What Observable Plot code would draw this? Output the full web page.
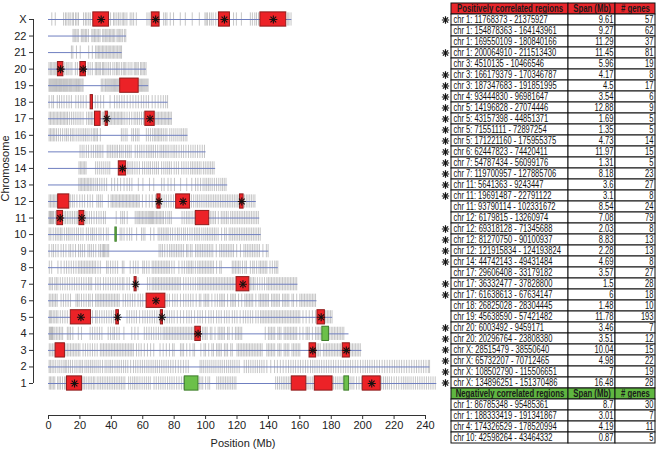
<!DOCTYPE html>
<html><head><meta charset="utf-8">
<script src="https://cdn.jsdelivr.net/npm/d3@7"></script>
<script src="https://cdn.jsdelivr.net/npm/@observablehq/plot@0.6"></script>
<style>
body{margin:0;background:#fff;}
#wrap{display:flex;width:656px;height:451px;overflow:hidden;}
</style></head><body><div id="wrap"></div>
<script>
// ---------- data ----------
const chromosomes = ["1","2","3","4","5","6","7","8","9","10","11","12","13","14","15","16","17","18","19","20","21","22","X"];
const chromLengths = [247.2,242.8,199.5,191.3,180.9,170.9,158.8,146.3,140.3,135.4,134.5,132.3,114.1,106.4,100.3,88.8,78.8,76.1,63.8,62.4,46.9,49.7,154.9];

const genesChr1 = [0.5,1.3,2.2,3.1,4.0,5.8,6.7,7.6,8.9,10.2,11.0,21.9,22.8,24.0,25.3,26.4,27.5,28.6,29.5,31.0,32.1,33.2,34.3,35.4,36.5,37.6,38.7,39.8,40.9,42.0,43.1,44.2,45.3,46.4,47.5,48.6,51.0,52.3,53.6,54.7,55.8,56.9,58.2,59.6,61.0,62.3,63.6,64.8,67.2,68.6,70.1,71.5,72.9,74.3,75.8,77.2,78.6,80.0,81.6,83.1,84.6,85.9,96.0,97.1,98.2,100.0,101.5,102.6,107.1,108.3,109.4,110.5,111.6,112.7,113.8,114.9,116.0,117.1,118.2,119.3,144.6,145.8,147.0,148.2,149.4,150.5,151.6,152.7,153.8,164.6,165.8,167.0,168.2,181.4,182.6,183.8,185.0,186.2,187.4,192.0,193.2,194.4,196.1,197.7,199.2,212.1,213.3,214.5,215.7,217.0,218.4,220.0,221.5,223.0,224.6,225.9,227.1,228.3,229.5,230.8,232.2,233.6,235.0,236.4,237.8,239.2,240.6,242.0,243.4,244.8,246.2];
const genesChr2 = [0.4,1.2,2.3,3.4,4.6,6.0,7.2,8.5,9.8,10.7,11.6,12.8,14.0,15.3,16.8,18.1,19.5,20.6,21.7,23.2,24.4,25.6,26.8,27.9,29.1,30.3,31.6,32.9,34.4,36.0,37.2,38.5,39.6,40.8,42.3,43.7,45.0,46.4,47.8,49.1,50.5,52.3,54.1,55.5,56.9,58.4,59.8,61.2,62.6,63.9,65.3,66.6,68.0,69.3,70.7,72.1,73.5,74.9,76.3,77.8,79.3,80.9,82.6,84.2,85.9,87.5,89.0,96.5,97.6,98.8,100.1,101.4,102.7,104.0,105.3,106.6,108.0,109.3,110.6,112.0,113.4,114.7,116.0,117.3,118.6,120.0,121.4,124.6,126.0,127.4,128.8,130.2,131.6,133.0,134.4,135.8,137.2,139.0,141.5,143.9,145.7,147.6,149.4,151.2,152.8,154.3,155.8,157.3,158.9,160.4,162.0,163.6,165.1,166.8,168.2,169.6,171.0,172.4,173.9,175.4,176.9,178.4,179.9,181.4,182.9,184.5,186.1,187.7,189.2,190.7,192.2,193.7,195.3,196.9,198.6,200.2,201.7,203.1,204.5,206.0,207.5,209.1,210.7,212.4,214.0,215.6,217.2,218.8,220.3,221.8,223.3,224.8,226.4,228.0,229.6,231.2,232.8,234.3,235.8,237.3,238.8,240.3,241.8,242.6];
const genesChr3 = [0.5,1.5,2.5,3.5,11.0,12.0,13.0,14.0,15.0,16.0,17.0,18.0,19.0,20.0,22.0,23.5,25.0,26.5,28.0,29.5,31.0,33.0,34.0,35.0,36.0,37.0,38.0,39.0,40.0,41.0,42.0,43.0,44.0,45.0,46.0,47.0,48.0,49.0,50.0,51.0,52.0,53.0,54.0,56.0,57.5,59.0,61.0,63.0,65.0,67.0,71.0,73.0,75.0,77.0,79.0,80.0,84.0,85.0,86.0,88.0,90.0,92.0,93.0,97.0,99.0,100.0,102.0,104.0,105.0,107.0,108.0,109.0,110.0,112.0,113.0,114.0,116.0,117.0,120.0,121.0,122.0,123.0,124.0,125.0,126.0,127.0,128.0,129.0,130.0,131.0,132.0,133.0,134.0,135.0,136.0,139.0,140.0,141.0,142.0,143.0,144.0,146.0,147.0,148.0,150.0,151.0,152.0,153.0,155.0,156.0,157.0,158.0,159.0,160.0,171.0,172.0,173.0,175.0,176.0,177.0,178.0,179.0,180.0,181.0,182.0,183.0,184.0,185.0,186.0,192.5,193.5,194.5,195.5,196.5,197.5,198.5];
const genesChr4 = [0.5,1.0,1.5,2.0,2.5,3.0,4.0,5.0,6.0,7.0,8.0,9.0,12.0,13.0,14.0,15.5,19.0,21.0,26.5,28.0,29.5,31.0,32.5,34.0,38.0,39.5,41.0,42.0,43.5,45.0,48.0,53.0,55.0,57.0,61.0,62.5,64.0,65.5,67.0,68.5,70.0,71.5,73.0,74.0,75.0,76.0,77.0,78.0,79.0,80.0,81.0,82.0,83.0,84.0,85.0,86.0,87.0,88.0,89.0,90.0,91.0,92.0,98.0,99.0,100.0,101.0,103.0,104.0,106.0,108.0,109.0,110.0,111.0,112.0,114.0,115.0,117.0,119.0,120.0,121.0,122.0,123.0,138.0,140.0,141.0,142.0,143.0,144.0,146.0,147.0,148.0,150.0,151.0,152.0,153.0,154.0,155.0,156.0,157.0,158.0,160.0,162.0,164.0,165.0,166.0,168.0,170.0,171.0,172.0,173.0,179.0,180.0,181.0,182.0,183.0,184.0,185.0,186.0,187.0,188.0];
const genesChr5 = [0.5,1.2,2.0,3.0,4.0,5.0,6.0,7.5,9.0,10.5,12.0,28.0,30.0,31.0,32.5,34.0,35.5,37.0,38.5,40.0,41.5,50.0,51.5,53.0,54.5,56.0,58.0,60.0,61.5,63.0,64.5,66.0,67.5,69.0,70.5,74.0,75.5,77.0,78.5,80.0,82.0,84.0,86.0,88.0,89.5,91.0,93.0,95.0,96.5,98.0,100.0,102.0,103.5,105.0,107.0,108.5,110.0,112.0,113.5,115.0,117.0,118.5,120.0,122.0,124.0,125.5,127.0,128.5,130.0,132.0,133.5,135.0,136.0,137.0,138.0,139.0,140.0,141.0,142.0,143.0,144.0,145.0,146.0,147.0,148.0,149.0,150.0,151.0,152.0,153.0,154.0,155.0,156.0,157.0,158.0,159.0,160.0,162.0,164.0,166.0,168.0,170.0,176.5,177.5,178.5,179.5,180.5];
const genesChr6 = [0.5,1.5,2.5,3.5,4.5,5.5,8.0,9.5,11.0,12.5,14.0,17.5,18.5,19.5,21.0,22.5,24.0,25.5,26.5,28.0,30.0,31.0,32.0,33.0,34.0,35.0,36.0,37.0,38.0,39.0,40.0,41.0,42.0,43.0,44.0,45.0,47.5,49.0,50.5,52.0,53.5,55.0,57.0,58.5,60.0,75.5,77.0,79.0,80.5,82.0,84.0,86.0,87.5,89.0,90.5,92.0,94.0,96.0,97.0,99.0,100.0,101.0,102.0,104.0,106.0,107.5,109.0,110.0,111.0,112.0,114.0,116.0,117.0,118.0,119.0,121.0,123.0,125.0,126.0,127.0,128.0,129.0,130.0,132.0,134.0,135.0,136.0,137.0,138.0,139.0,140.0,142.0,143.0,144.0,145.0,146.0,147.0,149.0,150.0,151.0,152.0,153.0,155.0,156.0,158.0,160.0,161.0,162.0,163.0,164.0,165.0,166.0,167.0,168.0,169.0,170.0];
const genesChr7 = [0.5,1.5,2.5,4.0,5.0,6.0,7.5,9.0,10.5,12.0,13.5,15.0,16.5,18.0,19.5,21.0,22.5,24.0,25.5,26.5,27.5,30.0,31.5,33.0,35.0,36.5,38.0,39.5,41.0,42.5,44.0,45.5,47.0,48.0,50.0,51.5,57.0,63.0,64.5,66.0,67.0,68.0,69.0,70.0,71.0,72.0,73.0,74.0,75.0,76.0,77.0,78.0,79.0,80.0,81.0,82.0,83.0,84.0,86.0,87.5,89.0,90.5,92.0,93.5,95.0,96.0,97.0,98.0,99.0,100.0,101.0,102.0,103.0,104.0,105.0,106.0,107.0,108.0,109.0,110.0,111.0,112.0,113.0,114.0,115.0,116.0,117.0,118.0,128.5,129.5,130.5,131.5,133.0,134.5,136.0,137.5,139.0,140.0,141.0,142.0,143.0,144.0,145.0,146.0,147.0,148.0,149.0,150.0,151.0,152.0,153.0,154.0,155.0,156.0,157.0,158.0];
const genesChr8 = [0.5,2.0,6.0,8.0,10.0,11.5,13.0,14.5,16.0,17.5,19.0,20.0,21.0,22.0,23.0,24.0,25.0,26.0,27.0,28.0,29.0,30.0,31.5,33.0,37.0,38.0,39.5,41.0,42.5,44.0,47.0,48.0,52.0,54.0,55.5,57.0,60.0,61.0,62.5,64.0,66.0,67.0,68.0,69.0,70.0,71.0,72.0,73.0,74.0,75.0,76.0,77.0,78.5,80.0,83.0,85.0,86.5,88.0,89.0,90.0,91.0,92.0,93.5,95.0,96.0,97.0,98.0,99.0,100.0,101.0,102.0,103.0,104.0,105.0,107.0,109.0,110.0,117.0,118.0,119.0,120.0,121.0,122.0,123.5,125.0,126.0,128.5,130.0,131.0,132.5,134.0,135.0,136.0,137.0,138.0,139.0,141.0,142.5,144.0,145.0,146.0];
const genesChr9 = [0.4,2.1,3.2,4.6,6.1,8.0,9.5,11.1,13.0,14.1,15.6,17.2,19.1,20.3,21.6,23.0,25.1,26.2,27.3,28.6,30.1,32.0,33.1,34.2,35.0,35.6,36.5,37.4,38.3,70.4,71.5,72.6,74.0,75.6,77.1,78.2,79.3,80.4,81.5,82.6,83.7,84.8,86.0,87.9,88.8,90.3,91.4,93.6,94.7,95.8,96.9,98.0,99.1,100.2,101.3,102.4,103.5,104.6,106.8,109.0,110.1,111.2,112.3,113.4,114.5,115.6,116.7,117.8,119.8,122.2,124.4,125.5,126.6,127.7,128.8,129.9,131.0,132.1,133.2,134.3,136.5,138.7,139.8];
const genesChr10 = [0.4,1.5,3.0,4.4,5.5,6.6,7.7,8.6,10.1,11.5,12.6,13.7,15.0,16.4,17.9,19.1,20.6,22.0,24.1,25.4,26.9,28.0,29.1,30.5,32.1,33.4,35.0,36.8,38.0,45.6,46.7,48.1,50.0,51.6,53.0,56.1,59.2,60.3,61.4,65.0,67.1,69.8,70.9,72.0,73.1,74.2,75.3,76.2,77.6,79.0,80.6,82.1,83.2,84.6,86.0,87.1,88.5,90.0,91.4,92.9,94.0,95.1,96.2,97.6,98.9,100.1,101.2,102.3,103.4,104.5,105.6,106.7,108.0,110.2,112.1,113.2,115.0,116.1,117.2,118.3,119.4,120.5,121.6,122.7,123.8,124.9,126.0,127.1,128.2,129.3,130.4,131.5,132.6,133.7,134.8];
const genesChr11 = [0.3,0.8,1.3,1.8,2.3,2.8,3.3,4.4,9.9,10.9,12.0,13.1,14.2,15.3,16.5,17.6,18.6,23.4,24.5,26.0,27.4,29.0,30.6,32.1,33.5,35.0,36.2,43.1,46.0,47.2,48.3,50.1,55.2,56.3,57.1,58.0,58.9,59.8,60.7,61.6,62.5,63.4,64.1,64.8,65.5,66.2,66.9,67.8,68.7,69.6,70.5,71.4,72.3,73.2,74.6,76.0,77.1,78.2,85.0,86.4,87.8,88.9,90.0,91.4,92.8,103.0,104.1,105.2,106.3,108.1,110.0,111.1,112.2,113.3,114.4,116.0,117.1,118.2,119.3,120.4,121.5,122.6,123.7,124.8,125.9,127.0,128.1,129.2,130.3,131.4,132.5,133.6];
const genesChr12 = [0.4,1.3,2.2,3.1,4.0,4.9,5.7,13.9,15.2,16.4,18.1,19.9,21.5,23.0,24.9,26.5,28.1,30.8,31.9,33.0,34.2,38.1,39.8,40.7,41.6,42.5,43.4,44.3,45.2,46.1,47.0,47.9,48.8,49.7,50.6,51.5,52.4,53.3,54.2,55.1,56.0,56.9,57.8,59.8,62.1,64.2,66.0,68.1,72.2,73.6,75.0,76.5,78.0,79.6,91.0,92.4,93.8,94.9,96.0,97.2,98.4,99.6,100.7,101.8,102.9,104.0,105.1,106.2,107.3,108.4,109.5,110.6,111.7,112.8,113.9,115.0,116.1,117.2,118.3,119.4,120.5,121.4,124.8,125.9,127.0,128.1,129.2,130.3,131.4];
const genesChr13 = [19.3,20.2,21.1,22.0,22.9,23.8,24.7,25.6,26.6,27.6,28.8,30.1,31.2,32.6,34.0,35.5,37.0,40.2,42.1,44.0,45.9,48.1,50.0,51.6,53.1,57.2,60.1,64.3,67.0,72.0,73.6,76.1,78.0,80.2,84.1,88.0,91.2,93.6,95.1,96.8,98.4,99.6,100.7,101.8,102.9,104.2,105.6,107.0,108.4,109.7,110.8,111.9,113.0];
const genesChr14 = [19.4,20.3,21.2,22.1,23.0,23.9,30.0,31.3,32.6,33.9,35.2,36.5,37.8,39.0,50.4,51.3,52.5,53.6,55.0,56.4,57.9,59.9,61.2,62.6,63.8,64.9,66.3,67.6,68.8,70.0,72.0,73.4,74.7,75.9,77.0,78.2,80.0,81.4,82.8,84.8,86.2,87.6,89.0,90.5,91.6,92.7,93.8,94.9,96.0,97.1,98.6,99.8,101.0,102.1,103.2,104.3,105.4];
const genesChr15 = [20.1,21.4,22.6,24.1,25.5,27.2,28.6,30.0,31.1,32.2,33.3,34.6,37.4,38.5,39.6,40.7,41.8,42.9,43.9,45.2,46.3,47.5,49.0,50.2,51.4,52.6,55.2,56.6,58.1,59.4,60.8,62.3,63.5,64.6,65.7,66.8,68.1,69.5,71.0,72.1,73.2,74.3,75.4,76.6,78.0,79.3,80.4,81.6,83.1,84.6,86.0,87.5,89.1,90.6,92.0,93.4,94.9,96.4,97.9,99.3];
const genesChr16 = [0.4,1.3,2.2,3.1,4.0,5.1,6.3,7.6,9.0,10.4,11.5,12.6,14.0,15.1,16.2,17.6,18.9,20.1,21.3,22.4,23.5,24.6,25.8,27.2,28.5,29.4,30.3,31.2,33.0,46.4,47.5,48.8,50.0,53.0,54.1,55.4,56.5,57.6,62.3,63.6,64.9,66.3,67.4,68.3,69.2,70.1,71.0,72.0,73.1,74.3,75.4,77.2,78.5,79.8,81.1,82.4,83.7,84.8,85.9,87.0,88.1];
const genesChr17 = [0.4,1.3,2.2,3.1,4.0,4.9,5.8,6.7,7.6,8.5,9.4,10.3,11.2,12.1,13.3,14.6,15.8,17.0,18.2,19.4,20.6,22.0,24.3,25.5,26.4,27.3,28.2,34.2,35.1,38.4,39.3,40.2,41.1,42.0,42.9,43.8,44.7,45.6,46.5,47.4,48.6,50.0,51.5,53.0,54.5,55.6,56.7,57.9,59.2,60.5,68.3,69.2,70.1,71.0,71.9,72.8,73.7,74.6,75.5,76.4,77.3,78.2];
const genesChr18 = [0.4,2.1,3.2,5.6,7.0,8.4,9.9,11.6,13.1,14.6,17.4,19.0,20.6,22.1,24.0,29.8,31.4,33.2,35.1,39.2,42.0,43.6,45.1,46.7,48.2,50.1,52.0,53.8,55.6,57.2,59.1,60.6,62.2,63.7,66.0,67.9,69.8,71.5,73.1,74.6,75.8];
const genesChr19 = [0.3,0.9,1.5,2.1,2.7,3.3,3.9,4.5,5.1,5.7,6.4,7.0,7.6,8.2,8.8,9.5,10.1,10.7,11.3,11.9,12.5,13.2,13.8,14.4,15.0,15.7,16.4,17.1,17.8,18.4,19.1,19.7,20.5,21.3,22.0,33.6,34.5,35.4,36.3,37.1,37.8,38.5,39.2,39.9,40.6,41.3,42.0,42.7,43.4,44.1,44.8,57.8,58.5,59.2,59.9,60.6,61.3,62.0,62.7,63.4];
const genesChr20 = [0.3,1.2,2.0,2.9,3.7,4.6,5.4,10.4,11.6,12.5,13.7,14.9,17.1,18.4,25.2,26.5,27.9,29.8,30.6,31.5,32.3,33.2,34.4,35.1,36.0,37.2,38.3,39.4,41.0,42.2,43.3,44.1,45.0,46.4,47.6,48.5,49.3,50.7,51.9,53.1,54.6,55.5,56.3,57.2,58.6,59.4,60.3,61.2,62.1];
const genesChr21 = [14.6,15.5,17.8,20.2,25.6,27.9,30.0,30.9,31.8,32.6,33.5,34.4,35.2,36.1,37.0,37.9,38.7,39.6,40.5,41.3,42.2,43.1,44.0,44.9,45.7,46.5];
const genesChr22 = [15.6,16.4,17.3,18.2,19.0,20.9,21.8,22.6,23.5,24.3,25.4,27.6,28.4,29.3,30.1,31.0,31.9,32.8,34.5,35.3,36.2,37.1,37.9,38.8,39.6,40.5,41.3,42.2,43.6,44.4,45.3,46.1,47.0,48.3,49.2];
const genesChrX = [2.1,4.3,9.6,10.8,11.7,12.9,13.8,15.1,15.9,17.2,18.1,19.1,22.3,23.5,24.4,25.6,26.6,39.5,41.4,42.3,43.5,44.6,45.6,46.9,47.8,48.7,49.9,52.0,53.1,54.2,55.9,62.7,64.0,73.3,74.4,75.4,77.5,79.6,83.9,87.1,91.5,96.0,99.6,100.4,101.2,102.5,103.6,104.8,106.5,117.8,119.6,122.8,128.5,129.8,131.3,132.4,133.7,152.3,153.1,154.4];

const positiveRegions = ["chr 1: 11768373 - 21375927","chr 1: 154878363 - 164143961","chr 1: 169550109 - 180840166","chr 1: 200064910 - 211513430","chr 3: 4510135 - 10466546","chr 3: 166179379 - 170346787","chr 3: 187347683 - 191851995","chr 4: 93444830 - 96981647","chr 5: 14196828 - 27074446","chr 5: 43157398 - 44851371","chr 5: 71551111 - 72897254","chr 5: 171221160 - 175955375","chr 6: 62447823 - 74420411","chr 7: 54787434 - 56099176","chr 7: 119700957 - 127885706","chr 11: 5641363 - 9243447","chr 11: 19691487 - 22791122","chr 11: 93790114 - 102331672","chr 12: 6179815 - 13260974","chr 12: 69318128 - 71345688","chr 12: 81270750 - 90100937","chr 12: 121915834 - 124193824","chr 14: 44742143 - 49431484","chr 17: 29606408 - 33179182","chr 17: 36332477 - 37828800","chr 17: 61638613 - 67634147","chr 18: 26825028 - 28304445","chr 19: 45638590 - 57421482","chr 20: 6003492 - 9459171","chr 20: 20296764 - 23808380","chr X: 28515479 - 38550640","chr X: 65732207 - 70712465","chr X: 108502790 - 115506651","chr X: 134896251 - 151370486"];
const positiveSpan = ["9.61","9.27","11.29","11.45","5.96","4.17","4.5","3.54","12.88","1.69","1.35","4.73","11.97","1.31","8.18","3.6","3.1","8.54","7.08","2.03","8.83","2.28","4.69","3.57","1.5","6","1.48","11.78","3.46","3.51","10.04","4.98","7","16.48"];
const positiveGenes = [57,62,37,81,19,8,17,6,9,5,5,14,15,5,23,27,8,24,79,8,13,13,8,27,28,18,10,193,7,12,15,22,19,28];
const positiveStar = [1,0,0,1,0,1,1,1,1,1,1,1,1,1,1,1,1,0,0,1,1,1,1,0,1,1,0,0,1,1,1,1,1,1];

const negativeRegions = ["chr 1: 86785348 - 95485361","chr 1: 188333419 - 191341867","chr 4: 174326529 - 178520994","chr 10: 42598264 - 43464332"];
const negativeSpan = ["8.7","3.01","4.19","0.87"];
const negativeGenes = [30,7,11,5];

const xTicks = [0,20,40,60,80,100,120,140,160,180,200,220,240];

// ---------- derived tables ----------
const geneLists = [genesChr1,genesChr2,genesChr3,genesChr4,genesChr5,genesChr6,genesChr7,genesChr8,genesChr9,genesChr10,genesChr11,genesChr12,genesChr13,genesChr14,genesChr15,genesChr16,genesChr17,genesChr18,genesChr19,genesChr20,genesChr21,genesChr22,genesChrX];
const genes = geneLists.flatMap((list, i) => list.map(pos => ({k: i + 1, pos})));
const chroms = chromosomes.map((c, i) => ({k: i + 1, len: chromLengths[i]}));
function parseRegion(s) {
  const m = s.match(/chr (\w+): (\d+) - (\d+)/);
  return {k: chromosomes.indexOf(m[1]) + 1, start: +m[2] / 1e6, end: +m[3] / 1e6};
}
const regions = [
  ...positiveRegions.map((s, i) => ({...parseRegion(s), type: "pos", star: positiveStar[i]})),
  ...negativeRegions.map(s => ({...parseRegion(s), type: "neg", star: 0}))
];
const starred = regions.filter(d => d.star);

const FONT = "'Liberation Sans', Arial, Helvetica, sans-serif";
const yBottom = -0.934;

const chart = Plot.plot({
  width: 440, height: 451,
  marginLeft: 48, marginRight: 15, marginTop: 19, marginBottom: 36,
  style: {fontFamily: FONT, fontSize: "11px", color: "#222", background: "#fff"},
  x: {domain: [0, 240]},
  y: {domain: [yBottom, 23]},
  marks: [
    Plot.ruleX(genes, {x: "pos", y1: d => d.k - 0.4, y2: d => d.k + 0.4, stroke: "#777", strokeOpacity: 0.42, strokeWidth: 1}),
    Plot.ruleY(chroms, {y: "k", x1: 0, x2: "len", stroke: "#6f7fc0", strokeWidth: 1}),
    Plot.rect(regions, {x1: "start", x2: "end", y1: d => d.k - 0.43, y2: d => d.k + 0.43,
      fill: d => d.type === "pos" ? "#ec2227" : "#6cc04a",
      stroke: d => d.type === "pos" ? "#8e1b1b" : "#3d7d2a", strokeWidth: 1}),
    Plot.dot(starred, {x: d => (d.start + d.end) / 2, y: "k", symbol: "plus", r: 2.7, stroke: "#111", strokeWidth: 1.1}),
    Plot.dot(starred, {x: d => (d.start + d.end) / 2, y: "k", symbol: "times", r: 2.7, stroke: "#111", strokeWidth: 1.1}),
    Plot.ruleX([0], {y1: 1, y2: 23, dx: -15, stroke: "#333"}),
    Plot.axisY({ticks: d3.range(1, 24), tickFormat: d => chromosomes[d - 1], dx: -15, tickSize: 4, tickPadding: 3, fontSize: 11, label: null, stroke: "#333", color: "#222"}),
    Plot.ruleY([yBottom], {x1: 0, x2: 240, stroke: "#333"}),
    Plot.axisX({ticks: xTicks, tickSize: 4, tickPadding: 2, fontSize: 11, label: null, stroke: "#333"}),
    Plot.text(["Position (Mb)"], {frameAnchor: "bottom", dy: 28, dx: 6, fontSize: 11, lineAnchor: "middle", fill: "#222"}),
    Plot.text(["Chromosome"], {frameAnchor: "left", y: 12, dx: -43, rotate: -90, fontSize: 11, fill: "#222"})
  ]
});

// ---------- table ----------
const rows = [];
rows.push({row: 0, kind: "posHead", region: "Positively correlated regions", span: "Span (Mb)", genes: "# genes", star: 0});
positiveRegions.forEach((s, i) => rows.push({row: i + 1, kind: "body", region: s, span: positiveSpan[i], genes: String(positiveGenes[i]), star: positiveStar[i]}));
rows.push({row: positiveRegions.length + 1, kind: "negHead", region: "Negatively correlated regions", span: "Span (Mb)", genes: "# genes", star: 0});
negativeRegions.forEach((s, i) => rows.push({row: positiveRegions.length + 2 + i, kind: "body", region: s, span: negativeSpan[i], genes: String(negativeGenes[i]), star: 0}));

const columns = [{key: "region", x1: 11, x2: 128}, {key: "span", x1: 128, x2: 175}, {key: "genes", x1: 175, x2: 215}];
const cells = rows.flatMap(r => columns.map(c => ({...r, col: c.key, x1: c.x1, x2: c.x2, text: r[c.key]})));
const fillFor = k => k === "posHead" ? "#e8262b" : k === "negHead" ? "#5fb640" : "#fff";
const heads = cells.filter(d => d.kind !== "body");
const bodyLeft = cells.filter(d => d.kind === "body" && d.col === "region");
const bodyRight = cells.filter(d => d.kind === "body" && d.col !== "region");
const tableStars = rows.filter(r => r.star);

const table = Plot.plot({
  width: 216, height: 451, margin: 0,
  style: {fontFamily: FONT, fontSize: "10.5px", background: "#fff"},
  x: {type: "linear", domain: [0, 216], range: [0, 216], axis: null},
  y: {type: "band", domain: d3.range(rows.length), range: [2, 443], padding: 0, axis: null},
  marks: [
    Plot.barX(cells, {x1: "x1", x2: "x2", y: "row", fill: d => fillFor(d.kind), stroke: "#111", strokeWidth: 1}),
    Plot.text(heads, {x: d => (d.x1 + d.x2) / 2, y: "row", text: "text", fill: "#1a1a1a", fontSize: 10.5, fontWeight: "bold", className: "thead"}),
    Plot.text(bodyLeft, {x: d => d.x1 + 2, y: "row", text: "text", textAnchor: "start", fill: "#111", className: "tbody"}),
    Plot.text(bodyRight, {x: d => d.x2 - 2, y: "row", text: "text", textAnchor: "end", fill: "#111", className: "tbody"}),
    Plot.dot(tableStars, {x: 5, y: "row", symbol: "plus", r: 2.5, stroke: "#111", strokeWidth: 1.2}),
    Plot.dot(tableStars, {x: 5, y: "row", symbol: "times", r: 2.5, stroke: "#111", strokeWidth: 1.2})
  ]
});

const wrap = document.getElementById("wrap");
wrap.appendChild(chart);
wrap.appendChild(table);

// condense table text horizontally (the reference uses a narrow typeface)
table.querySelectorAll("g.thead text, g.tbody text, .thead text, .tbody text").forEach(t => {
  const head = t.closest(".thead") !== null;
  const f = head ? 0.74 : 0.72;
  const tr = t.getAttribute("transform") || "";
  if (tr.includes("scale(")) return;
  if (!tr && (t.getAttribute("x") || t.getAttribute("y"))) {
    const x = +t.getAttribute("x") || 0, y = +t.getAttribute("y") || 0;
    t.removeAttribute("x"); t.removeAttribute("y");
    t.setAttribute("transform", `translate(${x},${y}) scale(${f},1)`);
  } else {
    t.setAttribute("transform", `${tr} scale(${f},1)`);
  }
});
</script>
</body></html>
